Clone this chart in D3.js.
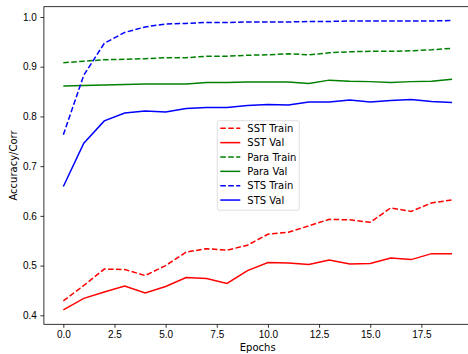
<!DOCTYPE html>
<html>
<head>
<meta charset="utf-8">
<script src="https://cdnjs.cloudflare.com/ajax/libs/d3/7.8.5/d3.min.js"></script>
<style>
  body { margin: 0; background: #fff; }
  svg { display: block; font-family: "DejaVu Sans", sans-serif; }
</style>
</head>
<body>
<div id="chart"></div>
<script>
	// Values, one per epoch
	var epochs = d3.range(20);
	var sstTrain  = [0.429, 0.460, 0.493, 0.492, 0.480, 0.500, 0.527, 0.534, 0.531, 0.541,
	                 0.563, 0.567, 0.580, 0.593, 0.592, 0.587, 0.616, 0.609, 0.626, 0.632];
	var sstVal    = [0.411, 0.434, 0.447, 0.459, 0.445, 0.458, 0.476, 0.474, 0.464, 0.490,
	                 0.506, 0.505, 0.502, 0.511, 0.503, 0.504, 0.515, 0.512, 0.524, 0.524];
	var paraTrain = [0.908, 0.911, 0.914, 0.915, 0.916, 0.918, 0.918, 0.921, 0.921, 0.923,
	                 0.924, 0.926, 0.924, 0.928, 0.930, 0.931, 0.931, 0.932, 0.934, 0.937];
	var paraVal   = [0.861, 0.862, 0.863, 0.864, 0.865, 0.865, 0.865, 0.868, 0.868, 0.869,
	                 0.869, 0.869, 0.866, 0.873, 0.871, 0.870, 0.868, 0.870, 0.871, 0.875];
	var stsTrain  = [0.763, 0.883, 0.947, 0.969, 0.980, 0.986, 0.987, 0.989, 0.989, 0.990,
	                 0.990, 0.990, 0.991, 0.991, 0.992, 0.992, 0.992, 0.992, 0.992, 0.993];
	var stsVal    = [0.659, 0.746, 0.791, 0.807, 0.811, 0.809, 0.816, 0.818, 0.818, 0.822,
	                 0.824, 0.823, 0.829, 0.829, 0.833, 0.829, 0.832, 0.834, 0.830, 0.828];

	var xTicks = [0, 2.5, 5, 7.5, 10, 12.5, 15, 17.5];
	var yTicks = [0.4, 0.5, 0.6, 0.7, 0.8, 0.9, 1.0];

	var series = [
		{name: "SST Train",  values: sstTrain,  color: "#ff0000", dashed: true},
		{name: "SST Val",    values: sstVal,    color: "#ff0000", dashed: false},
		{name: "Para Train", values: paraTrain, color: "#008000", dashed: true},
		{name: "Para Val",   values: paraVal,   color: "#008000", dashed: false},
		{name: "STS Train",  values: stsTrain,  color: "#0000ff", dashed: true},
		{name: "STS Val",    values: stsVal,    color: "#0000ff", dashed: false}
	];

	////////////////////////////////////////////////////////////
	//////////////////////// Set-up ////////////////////////////
	////////////////////////////////////////////////////////////

	var width = 468, height = 354;
	// plot area; the right side runs past the window like in the reference crop
	var plot = {left: 43.9, top: 6.7, right: 471.5, bottom: 324.3};

	var svg = d3.select("#chart").append("svg")
		.attr("width", width)
		.attr("height", height);

	var x = d3.scaleLinear().domain([-0.95, 19.95]).range([plot.left, plot.right]);
	var y = d3.scaleLinear().domain([0.3819, 1.0207]).range([plot.bottom, plot.top]);

	////////////////////////////////////////////////////////////
	///////////////////////// Axes /////////////////////////////
	////////////////////////////////////////////////////////////

	var xAxis = svg.append("g")
		.attr("transform", "translate(0," + plot.bottom + ")")
		.call(d3.axisBottom(x).tickValues(xTicks).tickFormat(d3.format(".1f")).tickSize(3.5).tickPadding(3.5));
	var yAxis = svg.append("g")
		.attr("transform", "translate(" + plot.left + ",0)")
		.call(d3.axisLeft(y).tickValues(yTicks).tickFormat(d3.format(".1f")).tickSize(3.5).tickPadding(3.5));

	[xAxis, yAxis].forEach(function(a) {
		a.select(".domain").remove();
		a.selectAll(".tick line").attr("stroke", "#000").attr("stroke-width", 0.8);
		a.selectAll(".tick text").attr("fill", "#000").style("font-size", "10px");
	});

	//Frame
	svg.append("rect")
		.attr("x", plot.left)
		.attr("y", plot.top)
		.attr("width", plot.right - plot.left)
		.attr("height", plot.bottom - plot.top)
		.attr("fill", "none")
		.attr("stroke", "#000")
		.attr("stroke-width", 0.8);

	//Axis titles
	svg.append("text")
		.attr("x", (plot.left + plot.right) / 2)
		.attr("y", 351)
		.style("text-anchor", "middle")
		.style("font-size", "10px")
		.attr("fill", "#000")
		.text("Epochs");
	svg.append("text")
		.attr("transform", "translate(17," + ((plot.top + plot.bottom) / 2) + ") rotate(-90)")
		.style("text-anchor", "middle")
		.style("font-size", "10px")
		.attr("fill", "#000")
		.text("Accuracy/Corr");

	////////////////////////////////////////////////////////////
	///////////////////////// Lines ////////////////////////////
	////////////////////////////////////////////////////////////

	var line = d3.line()
		.x(function(d, i) { return x(epochs[i]); })
		.y(function(d) { return y(d); });

	svg.append("g").selectAll("path")
		.data(series)
		.enter().append("path")
		.attr("d", function(d) { return line(d.values); })
		.attr("fill", "none")
		.attr("stroke", function(d) { return d.color; })
		.attr("stroke-width", 1.5)
		.attr("stroke-dasharray", function(d) { return d.dashed ? "5.55,2.4" : null; });

	////////////////////////////////////////////////////////////
	//////////////////////// Legend ////////////////////////////
	////////////////////////////////////////////////////////////

	var legend = svg.append("g").attr("transform", "translate(217.3,120.7)");
	legend.append("rect")
		.attr("width", 82)
		.attr("height", 89.5)
		.attr("rx", 2)
		.attr("fill", "#fff")
		.attr("fill-opacity", 0.8)
		.attr("stroke", "#d6d6d6")
		.attr("stroke-width", 0.8);

	var item = legend.selectAll(".item")
		.data(series)
		.enter().append("g")
		.attr("transform", function(d, i) { return "translate(0," + (7.6 + i * 14.35) + ")"; });
	item.append("line")
		.attr("x1", 3).attr("x2", 23)
		.attr("stroke", function(d) { return d.color; })
		.attr("stroke-width", 1.5)
		.attr("stroke-dasharray", function(d) { return d.dashed ? "5.55,2.4" : null; });
	item.append("text")
		.attr("x", 30)
		.attr("dy", "0.35em")
		.style("font-size", "10px")
		.attr("fill", "#000")
		.text(function(d) { return d.name; });
</script>
</body>
</html>
